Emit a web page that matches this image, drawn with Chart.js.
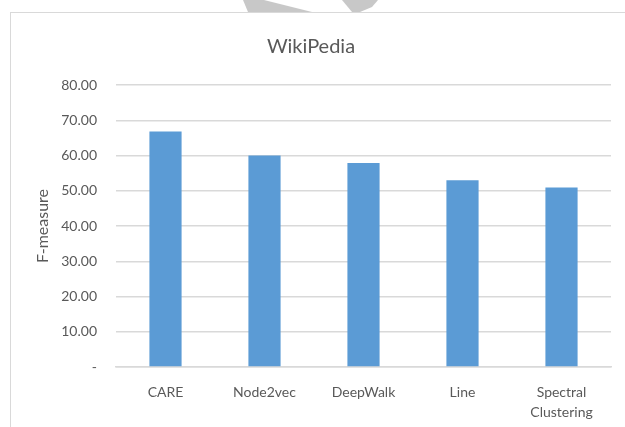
<!DOCTYPE html>
<html>
<head>
<meta charset="utf-8">
<script src="https://cdn.jsdelivr.net/npm/chart.js@4/dist/chart.umd.min.js"></script>
<style>
  body { margin: 0; background: #fff; width: 625px; height: 427px; overflow: hidden; position: relative; }
  #marca { position: absolute; left: 0; top: 0; }
  #marco { position: absolute; left: 10px; top: 12px; width: 615px; height: 415px;
           border-left: 1.5px solid #d9d9d9; border-top: 1.5px solid #d9d9d9; }
</style>
</head>
<body>
<!-- trozo de marca de agua gris arriba -->
<svg id="marca" width="625" height="14">
  <polygon points="243,0 264,0 312,12 248,12" fill="#c8c8c8"/>
  <polygon points="342,0 378,0 372,7 360,12 352,12" fill="#c8c8c8"/>
</svg>
<div id="marco"><canvas id="grafica" width="614" height="414"></canvas></div>
<script>
// ============================================
// DATOS
// ============================================
const metodos = ['CARE', 'Node2vec', 'DeepWalk', 'Line', ['Spectral', 'Clustering']];
const fMeasure = [66.8, 60.0, 57.9, 53.0, 50.9];
const titulo = 'WikiPedia';
const tituloEje = 'F-measure';

const gris = '#595959';
const fuente = 'Lato, "Open Sans", sans-serif';

// Etiquetas del eje Y al estilo Excel: 0 como "-"
function formatoTick(v) {
    return v === 0 ? '-' : v.toFixed(2);
}

const ctx = document.getElementById('grafica').getContext('2d');
const chart = new Chart(ctx, {
    type: 'bar',
    data: {
        labels: metodos,
        datasets: [{
            label: tituloEje,
            data: fMeasure,
            backgroundColor: '#5b9bd5',
            barPercentage: 0.325,
            categoryPercentage: 1
        }]
    },
    options: {
        responsive: false,
        animation: false,
        layout: { padding: { top: 10, right: 14, left: 0, bottom: 0 } },
        plugins: {
            legend: { display: false },
            tooltip: { enabled: false },
            title: {
                display: true,
                text: titulo,
                color: gris,
                font: { family: fuente, size: 20, weight: 'normal' },
                padding: { top: 12, bottom: 26 }
            }
        },
        scales: {
            x: {
                grid: { display: false, drawTicks: false },
                border: { color: '#d9d9d9', width: 1.5 },
                ticks: {
                    color: gris,
                    font: { family: fuente, size: 14, lineHeight: 1.45 },
                    padding: 15,
                    maxRotation: 0,
                    autoSkip: false
                },
                afterFit: function(scale) { scale.height = 60; }
            },
            y: {
                min: 0,
                max: 80,
                grid: { color: '#d9d9d9', lineWidth: 1.5, drawTicks: false },
                border: { display: false },
                ticks: {
                    stepSize: 10,
                    color: gris,
                    font: { family: fuente, size: 14 },
                    padding: 19,
                    callback: formatoTick
                },
                title: {
                    display: true,
                    text: tituloEje,
                    color: gris,
                    font: { family: fuente, size: 16 },
                    padding: { top: 22, bottom: 0 }
                },
                afterFit: function(scale) { scale.width = 105; }
            }
        }
    }
});
</script>
</body>
</html>
